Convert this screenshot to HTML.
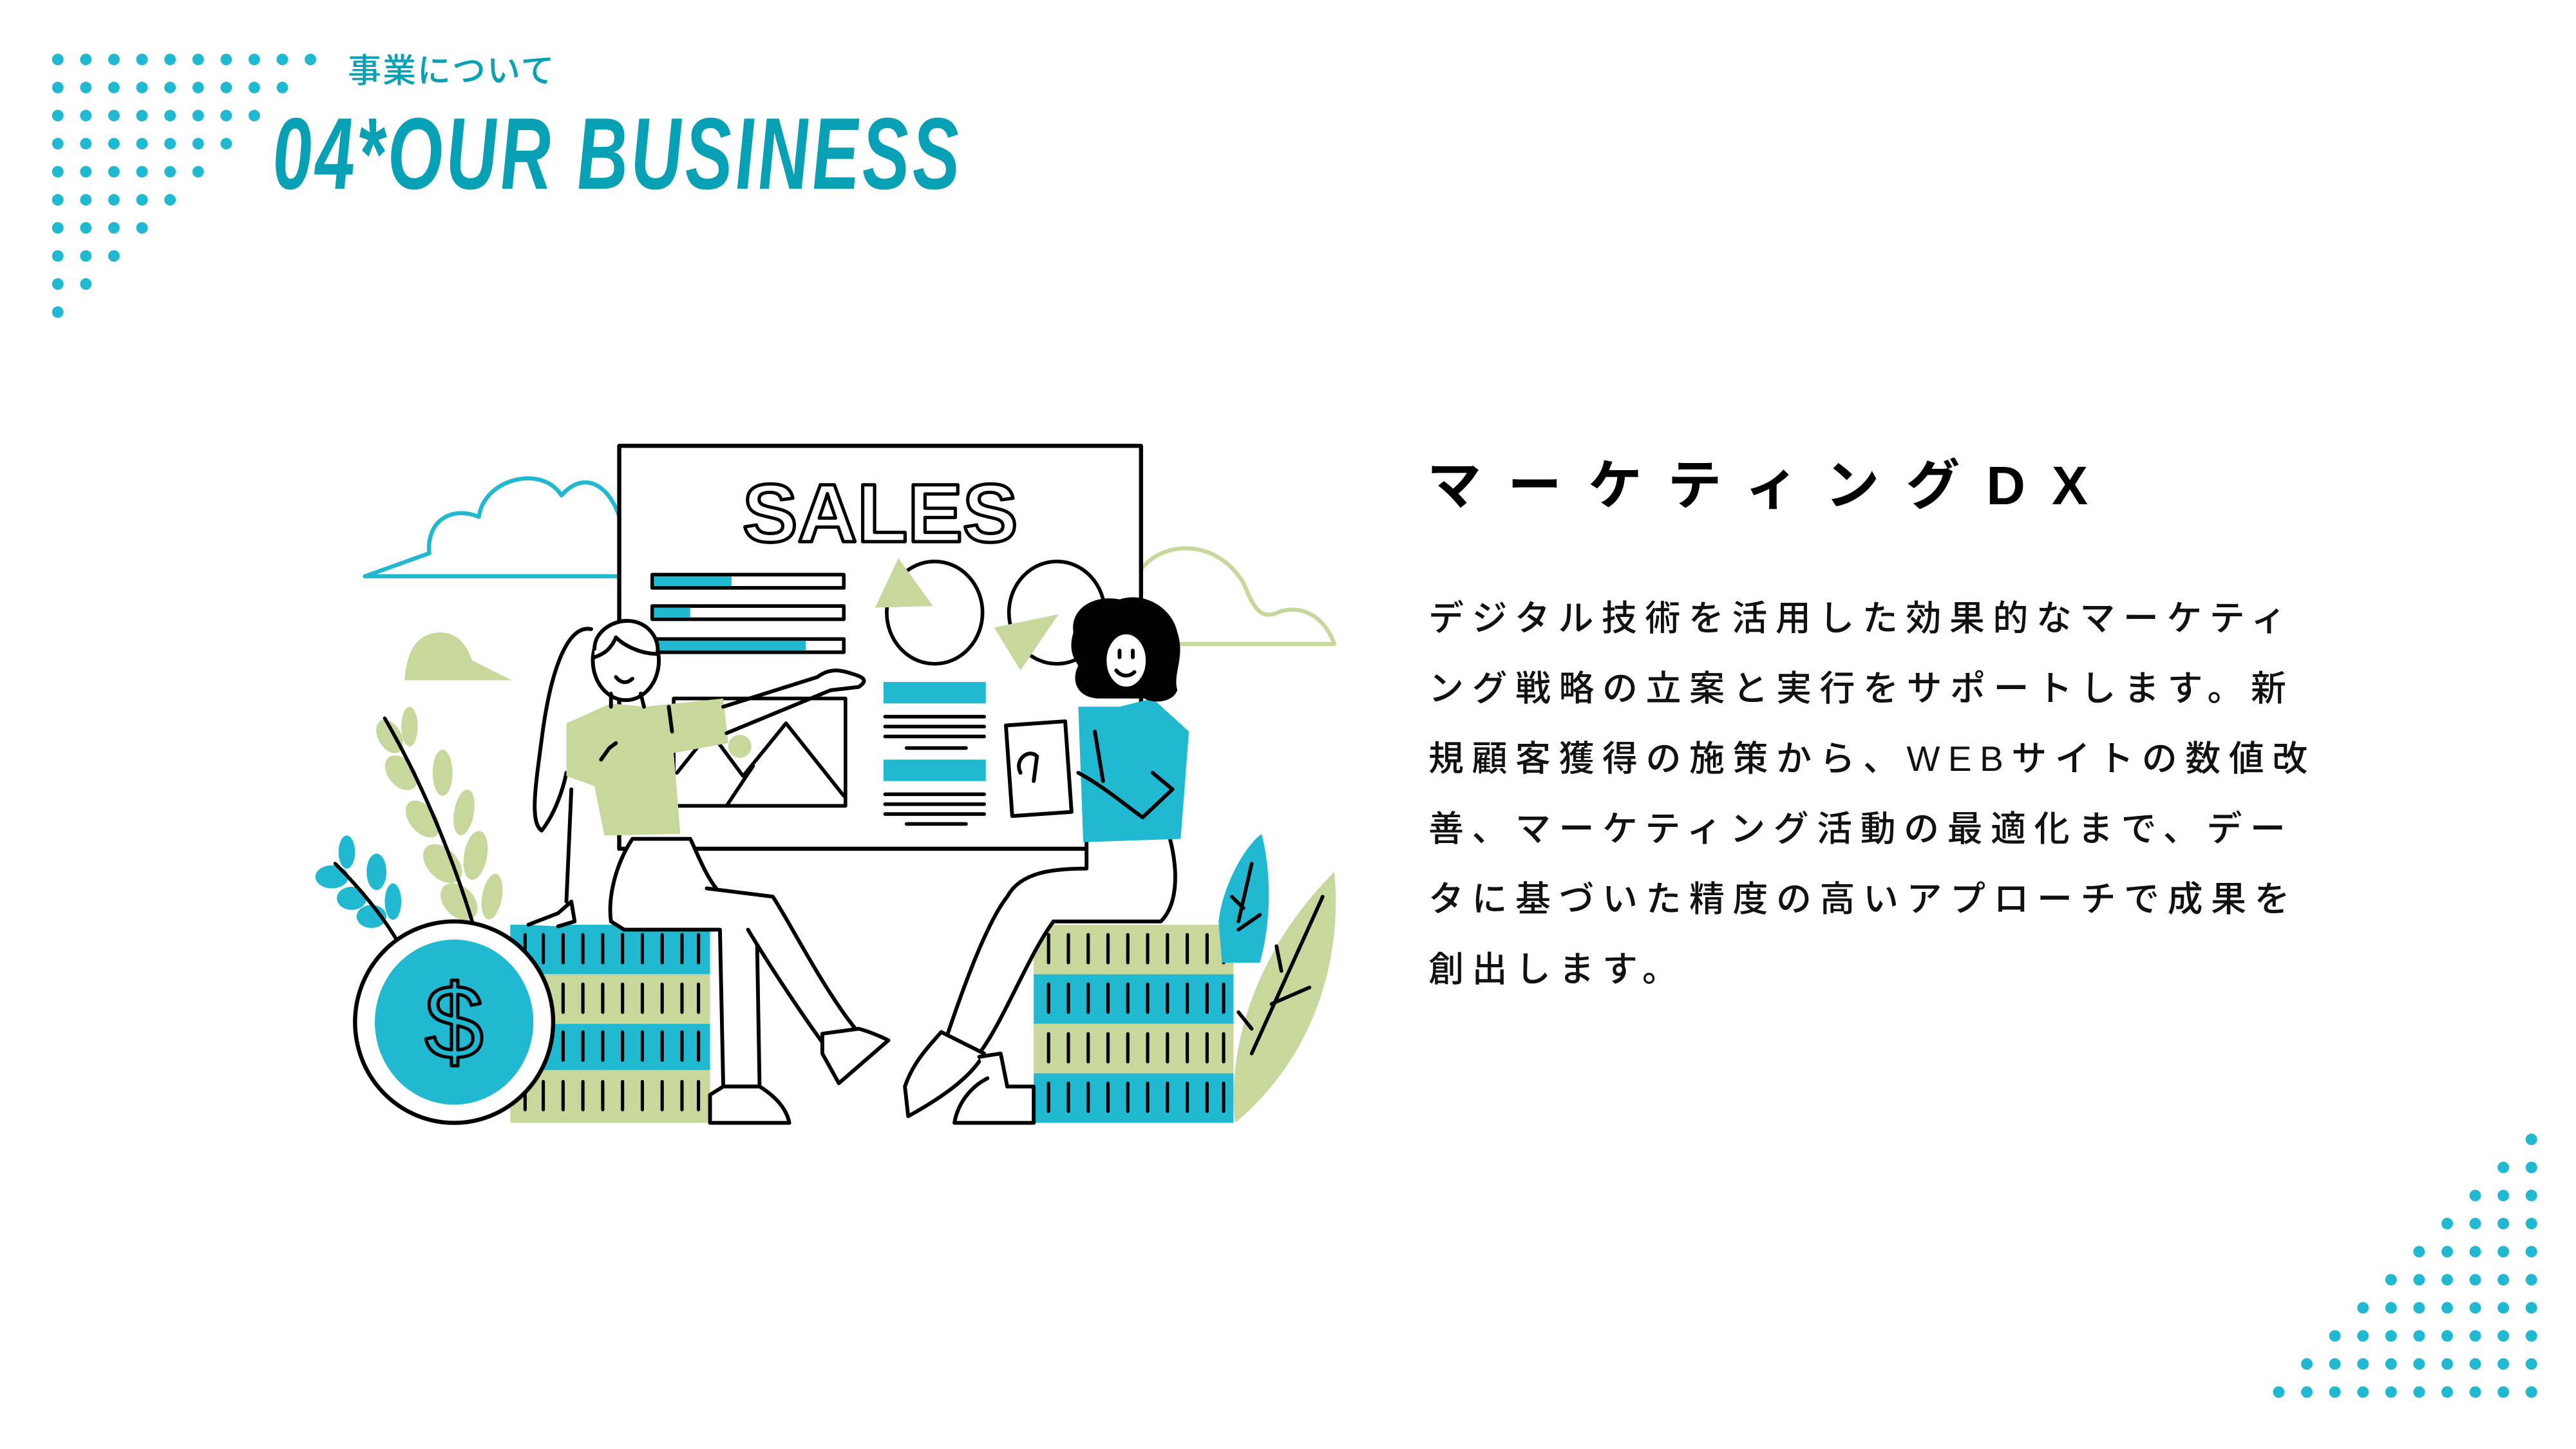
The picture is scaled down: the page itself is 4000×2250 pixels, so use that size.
<!DOCTYPE html>
<html><head><meta charset="utf-8"><style>
html,body{margin:0;padding:0;background:#fff;}
body{width:4000px;height:2250px;position:relative;overflow:hidden;}
.sub{position:absolute;left:540px;top:68px;font:500 52px "Liberation Sans","Noto Sans CJK JP",sans-serif;color:#0aa0b6;letter-spacing:2px;}
.title{position:absolute;left:420px;top:160px;font:bold italic 158px/1 "Liberation Sans",sans-serif;color:#07a0b5;transform:scaleX(0.70) skewX(3deg);transform-origin:0 0;white-space:nowrap;letter-spacing:6px;}
.h{position:absolute;left:2216px;top:712px;font:bold 84px/1 "Liberation Sans","Noto Sans CJK JP",sans-serif;letter-spacing:41px;color:#000;white-space:nowrap;}
.p{position:absolute;left:2218px;top:906px;font:500 55px/109px "Liberation Sans","Noto Sans CJK JP",sans-serif;letter-spacing:12.5px;color:#111;white-space:nowrap;}
svg{position:absolute;left:0;top:0;}
</style></head><body>
<svg width="4000" height="2250" viewBox="0 0 1560 877.5">
<g fill="#20b9d1">
<circle cx="35" cy="36" r="3.5"/><circle cx="52" cy="36" r="3.5"/><circle cx="69" cy="36" r="3.5"/><circle cx="86" cy="36" r="3.5"/><circle cx="103" cy="36" r="3.5"/><circle cx="120" cy="36" r="3.5"/><circle cx="137" cy="36" r="3.5"/><circle cx="154" cy="36" r="3.5"/><circle cx="171" cy="36" r="3.5"/><circle cx="188" cy="36" r="3.5"/>
<circle cx="35" cy="53" r="3.5"/><circle cx="52" cy="53" r="3.5"/><circle cx="69" cy="53" r="3.5"/><circle cx="86" cy="53" r="3.5"/><circle cx="103" cy="53" r="3.5"/><circle cx="120" cy="53" r="3.5"/><circle cx="137" cy="53" r="3.5"/><circle cx="154" cy="53" r="3.5"/><circle cx="171" cy="53" r="3.5"/>
<circle cx="35" cy="70" r="3.5"/><circle cx="52" cy="70" r="3.5"/><circle cx="69" cy="70" r="3.5"/><circle cx="86" cy="70" r="3.5"/><circle cx="103" cy="70" r="3.5"/><circle cx="120" cy="70" r="3.5"/><circle cx="137" cy="70" r="3.5"/><circle cx="154" cy="70" r="3.5"/>
<circle cx="35" cy="87" r="3.5"/><circle cx="52" cy="87" r="3.5"/><circle cx="69" cy="87" r="3.5"/><circle cx="86" cy="87" r="3.5"/><circle cx="103" cy="87" r="3.5"/><circle cx="120" cy="87" r="3.5"/><circle cx="137" cy="87" r="3.5"/>
<circle cx="35" cy="104" r="3.5"/><circle cx="52" cy="104" r="3.5"/><circle cx="69" cy="104" r="3.5"/><circle cx="86" cy="104" r="3.5"/><circle cx="103" cy="104" r="3.5"/><circle cx="120" cy="104" r="3.5"/>
<circle cx="35" cy="121" r="3.5"/><circle cx="52" cy="121" r="3.5"/><circle cx="69" cy="121" r="3.5"/><circle cx="86" cy="121" r="3.5"/><circle cx="103" cy="121" r="3.5"/>
<circle cx="35" cy="138" r="3.5"/><circle cx="52" cy="138" r="3.5"/><circle cx="69" cy="138" r="3.5"/><circle cx="86" cy="138" r="3.5"/>
<circle cx="35" cy="155" r="3.5"/><circle cx="52" cy="155" r="3.5"/><circle cx="69" cy="155" r="3.5"/>
<circle cx="35" cy="172" r="3.5"/><circle cx="52" cy="172" r="3.5"/>
<circle cx="35" cy="189" r="3.5"/>
<circle cx="1533" cy="690" r="3.5"/>
<circle cx="1516" cy="707" r="3.5"/><circle cx="1533" cy="707" r="3.5"/>
<circle cx="1499" cy="724" r="3.5"/><circle cx="1516" cy="724" r="3.5"/><circle cx="1533" cy="724" r="3.5"/>
<circle cx="1482" cy="741" r="3.5"/><circle cx="1499" cy="741" r="3.5"/><circle cx="1516" cy="741" r="3.5"/><circle cx="1533" cy="741" r="3.5"/>
<circle cx="1465" cy="758" r="3.5"/><circle cx="1482" cy="758" r="3.5"/><circle cx="1499" cy="758" r="3.5"/><circle cx="1516" cy="758" r="3.5"/><circle cx="1533" cy="758" r="3.5"/>
<circle cx="1448" cy="775" r="3.5"/><circle cx="1465" cy="775" r="3.5"/><circle cx="1482" cy="775" r="3.5"/><circle cx="1499" cy="775" r="3.5"/><circle cx="1516" cy="775" r="3.5"/><circle cx="1533" cy="775" r="3.5"/>
<circle cx="1431" cy="792" r="3.5"/><circle cx="1448" cy="792" r="3.5"/><circle cx="1465" cy="792" r="3.5"/><circle cx="1482" cy="792" r="3.5"/><circle cx="1499" cy="792" r="3.5"/><circle cx="1516" cy="792" r="3.5"/><circle cx="1533" cy="792" r="3.5"/>
<circle cx="1414" cy="809" r="3.5"/><circle cx="1431" cy="809" r="3.5"/><circle cx="1448" cy="809" r="3.5"/><circle cx="1465" cy="809" r="3.5"/><circle cx="1482" cy="809" r="3.5"/><circle cx="1499" cy="809" r="3.5"/><circle cx="1516" cy="809" r="3.5"/><circle cx="1533" cy="809" r="3.5"/>
<circle cx="1397" cy="826" r="3.5"/><circle cx="1414" cy="826" r="3.5"/><circle cx="1431" cy="826" r="3.5"/><circle cx="1448" cy="826" r="3.5"/><circle cx="1465" cy="826" r="3.5"/><circle cx="1482" cy="826" r="3.5"/><circle cx="1499" cy="826" r="3.5"/><circle cx="1516" cy="826" r="3.5"/><circle cx="1533" cy="826" r="3.5"/>
<circle cx="1380" cy="843" r="3.5"/><circle cx="1397" cy="843" r="3.5"/><circle cx="1414" cy="843" r="3.5"/><circle cx="1431" cy="843" r="3.5"/><circle cx="1448" cy="843" r="3.5"/><circle cx="1465" cy="843" r="3.5"/><circle cx="1482" cy="843" r="3.5"/><circle cx="1499" cy="843" r="3.5"/><circle cx="1516" cy="843" r="3.5"/><circle cx="1533" cy="843" r="3.5"/>
</g>

<g stroke-linecap="round" stroke-linejoin="round" transform="translate(-2,-2)">
<path d="M223,351 L262,337 C260,318 275,308 292,315 C295,292 330,283 342,302 C356,286 372,296 378,318" fill="none" stroke="#20b9d1" stroke-width="2.5"/>
<line x1="223" y1="351" x2="378" y2="351" stroke="#20b9d1" stroke-width="2.5"/>
<path d="M693,347 C705,330 738,327 755,355 C762,372 766,378 778,372 C795,368 806,380 810,392 L693,392" fill="none" stroke="#c8d89c" stroke-width="2.5"/>
<path d="M247,414 C248,400 252,386 268,385 C282,385 286,397 288,402 L312,414 Z" fill="#c8d89c"/>
<rect x="377" y="272" width="316" height="244" fill="#fff" stroke="#000" stroke-width="2.5"/>
<text x="535" y="330" text-anchor="middle" font-family="Liberation Sans,sans-serif" font-weight="bold" font-size="50" fill="#fff" stroke="#000" stroke-width="2">SALES</text>
<g stroke="#000" stroke-width="2.2">
<rect x="397" y="350" width="116" height="8" fill="#fff"/><rect x="398" y="351" width="47" height="6" fill="#20b9d1" stroke="none"/>
<rect x="397" y="369" width="116" height="8" fill="#fff"/><rect x="398" y="370" width="22" height="6" fill="#20b9d1" stroke="none"/>
<rect x="397" y="389" width="116" height="8" fill="#fff"/><rect x="398" y="390" width="92" height="6" fill="#20b9d1" stroke="none"/>
<ellipse cx="568" cy="373" rx="29" ry="31" fill="#fff"/>
<ellipse cx="642" cy="373" rx="29" ry="31" fill="#fff"/>
</g>
<path d="M532,370 L546,340 L567,369 Z" fill="#c8d89c"/>
<path d="M604,382 L643,374 L620,408 Z" fill="#c8d89c"/>
<rect x="537" y="415" width="62" height="13" fill="#20b9d1"/>
<rect x="537" y="462" width="62" height="13" fill="#20b9d1"/>
<g stroke="#000" stroke-width="2.2">
<line x1="538" y1="436" x2="598" y2="436"/><line x1="538" y1="442" x2="598" y2="442"/><line x1="538" y1="448" x2="598" y2="448"/><line x1="551" y1="455" x2="587" y2="455"/>
<line x1="538" y1="483" x2="598" y2="483"/><line x1="538" y1="489" x2="598" y2="489"/><line x1="538" y1="495" x2="598" y2="495"/><line x1="551" y1="501" x2="587" y2="501"/>
<rect x="410" y="425" width="104" height="65" fill="#fff"/>
<polyline points="412,470 432,445 452,472 478,440 513,484" fill="none"/>
<line x1="442" y1="490" x2="458" y2="466"/>
</g>
<circle cx="450" cy="454" r="7" fill="#c8d89c"/>

<g fill="#c8d89c">
<ellipse cx="238" cy="448" rx="7" ry="11" transform="rotate(-30 238 448)"/>
<ellipse cx="250" cy="442" rx="5" ry="12"/>
<ellipse cx="245" cy="470" rx="8" ry="12" transform="rotate(-40 245 470)"/>
<ellipse cx="270" cy="470" rx="6" ry="14"/>
<ellipse cx="258" cy="498" rx="8" ry="13" transform="rotate(-40 258 498)"/>
<ellipse cx="283" cy="494" rx="6" ry="14" transform="rotate(10 283 494)"/>
<ellipse cx="270" cy="525" rx="9" ry="14" transform="rotate(-45 270 525)"/>
<ellipse cx="290" cy="520" rx="7" ry="15" transform="rotate(10 290 520)"/>
<ellipse cx="280" cy="548" rx="9" ry="13" transform="rotate(-45 280 548)"/>
<ellipse cx="300" cy="545" rx="6" ry="14" transform="rotate(10 300 545)"/>
</g>
<path d="M235,437 C260,480 285,540 298,598" fill="none" stroke="#000" stroke-width="2.2"/>
<g fill="#20b9d1">
<ellipse cx="212" cy="518" rx="5" ry="10"/>
<ellipse cx="203" cy="533" rx="10" ry="7"/>
<ellipse cx="230" cy="530" rx="6" ry="11"/>
<ellipse cx="215" cy="546" rx="9" ry="7"/>
<ellipse cx="240" cy="548" rx="5" ry="11"/>
<ellipse cx="227" cy="557" rx="9" ry="7"/>
</g>
<path d="M205,525 C225,545 240,565 248,582" fill="none" stroke="#000" stroke-width="2.2"/>

<rect x="311" y="562" width="121" height="30" fill="#20b9d1"/>
<rect x="311" y="592" width="121" height="30" fill="#c8d89c"/>
<rect x="311" y="622" width="121" height="28" fill="#20b9d1"/>
<rect x="311" y="650" width="121" height="32" fill="#c8d89c"/>
<rect x="628" y="562" width="121" height="30" fill="#c8d89c"/>
<rect x="628" y="592" width="121" height="30" fill="#20b9d1"/>
<rect x="628" y="622" width="121" height="30" fill="#c8d89c"/>
<rect x="628" y="652" width="121" height="30" fill="#20b9d1"/>
<g stroke="#000" stroke-width="2">
<path d="M320,568v17M331,568v17M343,568v17M355,568v17M367,568v17M379,568v17M391,568v17M403,568v17M415,568v17M425,568v17"/>
<path d="M320,598v17M331,598v17M343,598v17M355,598v17M367,598v17M379,598v17M391,598v17M403,598v17M415,598v17M425,598v17"/>
<path d="M320,627v17M331,627v17M343,627v17M355,627v17M367,627v17M379,627v17M391,627v17M403,627v17M415,627v17M425,627v17"/>
<path d="M320,657v17M331,657v17M343,657v17M355,657v17M367,657v17M379,657v17M391,657v17M403,657v17M415,657v17M425,657v17"/>
<path d="M637,568v17M649,568v17M661,568v17M673,568v17M685,568v17M697,568v17M709,568v17M721,568v17M733,568v17M743,568v17"/>
<path d="M637,598v17M649,598v17M661,598v17M673,598v17M685,598v17M697,598v17M709,598v17M721,598v17M733,598v17M743,598v17"/>
<path d="M637,628v17M649,628v17M661,628v17M673,628v17M685,628v17M697,628v17M709,628v17M721,628v17M733,628v17M743,628v17"/>
<path d="M637,658v17M649,658v17M661,658v17M673,658v17M685,658v17M697,658v17M709,658v17M721,658v17M733,658v17M743,658v17"/>
</g>

<ellipse cx="277" cy="621" rx="60" ry="61" fill="#fff" stroke="#000" stroke-width="2.5"/>
<ellipse cx="277" cy="621" rx="48" ry="50" fill="#20b9d1"/>
<text x="277" y="643" text-anchor="middle" font-family="Liberation Sans,sans-serif" font-size="64" fill="#20b9d1" stroke="#000" stroke-width="2">$</text>

<path d="M740,560 C742,540 755,515 766,507 C772,530 772,560 765,585 L742,585 Z" fill="#20b9d1"/>
<path d="M750,682 C745,640 760,580 810,530 C815,580 800,640 750,682 Z" fill="#c8d89c"/>
<g stroke="#000" stroke-width="2.2" fill="none">
<path d="M760,525 L752,560 M748,545 L755,552 M752,565 L765,556"/>
<path d="M803,545 L760,640 M772,610 L795,600 M778,590 L775,575 M760,625 L752,615"/>
</g>

<g stroke="#000" stroke-width="2.3" fill="#fff">
<path d="M360,383 C345,380 335,410 330,450 C326,480 323,500 330,505 C338,495 343,480 345,470" fill="none"/>
<path d="M380,565 L372,560 C370,545 375,525 385,510 L420,510 C425,520 430,535 440,545 L460,545 L462,660 L440,660 L438,565 Z"/>
<path d="M430,540 L470,545 C480,560 500,600 520,625 L505,640 C490,620 470,590 455,565"/>
<path d="M500,628 L522,625 C530,627 540,632 540,632 L510,658 L500,640 Z"/>
<path d="M440,660 L462,660 C470,665 478,672 480,682 L432,682 L432,665 Z"/>
<path d="M322,562 L340,555 L348,548 L350,560 L340,563" />
<path d="M348,480 L345,548" fill="none"/>
</g>
<path d="M345,440 L372,428 L392,430 L440,425 L443,452 L410,458 L414,507 L368,508 L362,478 L345,472 Z" fill="#c8d89c"/>
<g stroke="#000" stroke-width="2.3" fill="none">
<path d="M440,430 L497,412 C505,406 512,408 518,410 C525,412 528,414 522,418 L505,420 L442,446"/>
<path d="M366,462 L371,455 L375,452"/>
<path d="M407,430 L409,445"/>
</g>
<g stroke="#000" stroke-width="2.3">
<ellipse cx="381" cy="402" rx="20" ry="24" fill="#fff"/>
<path d="M362,395 C362,385 372,378 382,378 C395,378 402,390 400,398 C390,398 380,393 375,388 C372,395 368,398 362,400" fill="#fff"/>
<path d="M375,412 C378,416 382,416 385,413" fill="none"/>
<path d="M372,422 L372,430 M390,422 L392,430" fill="none"/>
</g>

<g stroke="#000" stroke-width="2.3" fill="#fff">
<path d="M660,508 L710,508 C716,530 715,550 705,560 L640,560 C625,580 610,620 595,640 L572,640 C585,600 600,560 612,545 C620,530 640,528 660,528 Z"/>
<path d="M550,660 C555,645 565,635 572,627 L598,640 C590,655 570,668 552,678 Z"/>
<path d="M595,642 L608,640 L612,660 L628,660 L628,682 L580,682 C582,670 590,660 600,655"/>
<rect x="613" y="440" width="36" height="55" transform="rotate(-4 631 467)"/>
</g>
<path d="M655,430 L680,430 L700,425 L722,445 L717,510 L658,512 Z" fill="#20b9d1"/>
<g stroke="#000" stroke-width="2.3" fill="none">
<path d="M700,470 L712,480 L694,497 C684,490 670,478 655,470"/>
<path d="M620,470 C616,462 625,455 630,460 L628,475"/>
<path d="M665,445 L670,475"/>
</g>
<path d="M652,385 C650,370 665,362 680,365 C695,360 712,370 715,385 C720,400 712,410 715,420 C712,428 700,428 695,425 L668,425 C655,425 650,415 655,405 C650,398 650,392 652,385 Z" fill="#000"/>
<g stroke="#000" stroke-width="2.3">
<ellipse cx="684" cy="402" rx="13" ry="17" fill="#fff"/>
<path d="M678,408 C681,412 686,412 689,409 M680,396 v4 M688,396 v4" fill="none"/>
</g>
</g>
</svg>
<div class="sub">事業について</div>
<div class="title">04*OUR BUSINESS</div>
<div class="h">マーケティングDX</div>
<div class="p">デジタル技術を活用した効果的なマーケティ<br>ング戦略の立案と実行をサポートします。新<br>規顧客獲得の施策から、WEBサイトの数値改<br>善、マーケティング活動の最適化まで、デー<br>タに基づいた精度の高いアプローチで成果を<br>創出します。</div>
</body></html>
